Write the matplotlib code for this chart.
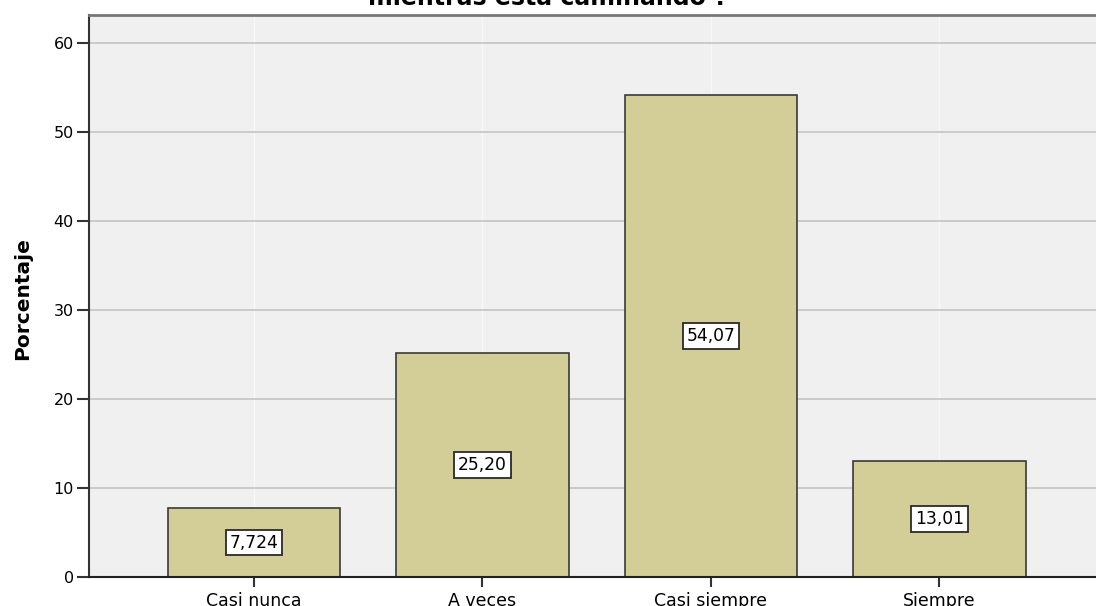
import matplotlib.pyplot as plt
import numpy as np

plt.rcParams['font.family'] = ['DejaVu Sans']

categorias = ["Casi nunca", "A veces", "Casi siempre", "Siempre"]
porcentajes = [7.724, 25.20, 54.07, 13.01]
etiquetas = ["7,724", "25,20", "54,07", "13,01"]

fig = plt.figure(figsize=(10.96, 6.06), dpi=100)
ax = fig.add_axes([89 / 1096, 29 / 606, 1 - 89 / 1096, 562 / 606])

x = np.arange(len(categorias))
ax.set_facecolor("#f0f0f0")
ax.set_axisbelow(True)
for xi in x:
    ax.axvline(xi, color="#f8f8f8", lw=1, zorder=0)
ax.yaxis.grid(True, color="#c4c4c4", lw=1.2)

barras = ax.bar(x, porcentajes, width=0.753, color="#d3cd98",
                edgecolor="#3a3a3a", lw=1.2, zorder=2)

for b, txt in zip(barras, etiquetas):
    ax.text(b.get_x() + b.get_width() / 2, b.get_height() / 2, txt,
            ha="center", va="center", fontsize=12.3, zorder=3,
            bbox=dict(boxstyle="square,pad=0.22", fc="white",
                      ec="#2a2a2a", lw=1.3))

ax.set_xlim(-0.722, 3.685)
ax.set_ylim(0, 63.1)
ax.set_yticks([0, 10, 20, 30, 40, 50, 60])
ax.set_xticks(x)
ax.set_xticklabels(categorias, fontsize=12.5)
ax.tick_params(axis="y", labelsize=11.5, length=9, width=1.5, color="#333333", pad=2)
ax.tick_params(axis="x", length=7, width=1.5, color="#333333", pad=4)

ax.spines["right"].set_visible(False)
ax.spines["top"].set_color("#777777")
ax.spines["top"].set_linewidth(2)
ax.spines["left"].set_color("#333333")
ax.spines["left"].set_linewidth(1.5)
ax.spines["bottom"].set_color("#222222")
ax.spines["bottom"].set_linewidth(1.5)

fig.text(23 / 1096, 1 - 299 / 606, "Porcentaje", rotation=90,
         ha="center", va="center", fontsize=14.5, fontweight="bold")

fig.text(548 / 1096, 1 - 5 / 606, "mientras esta caminando ?",
         ha="center", va="baseline", fontsize=17, fontweight="bold")

fig.savefig("out.png", dpi=100)
